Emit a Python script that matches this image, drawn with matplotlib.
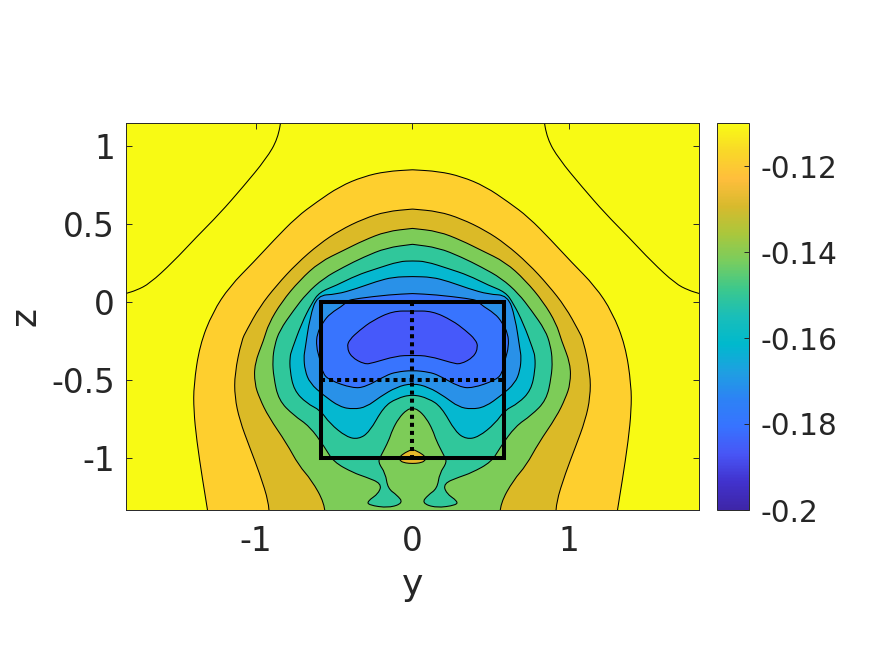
import numpy as np
import matplotlib
matplotlib.use('Agg')
import matplotlib.pyplot as plt
from matplotlib.cm import ScalarMappable
from matplotlib.colors import LinearSegmentedColormap, Normalize
from matplotlib.patches import PathPatch
from matplotlib.path import Path

# contours, right half only (field is symmetric in y)
y_a = [0, 0.166, 0.313, 0.466, 0.613, 0.741, 0.888, 1.016, 1.169, 1.278, 1.361, 1.399, 1.399, 1.380, 1.342, 1.310, 1.300]
z_a = [0.847, 0.837, 0.804, 0.740, 0.640, 0.544, 0.394, 0.255, 0.099, -0.067, -0.279, -0.535, -0.696, -0.888, -1.144, -1.337, -1.42]

y_b = [0, 0.166, 0.313, 0.466, 0.594, 0.741, 0.869, 0.978, 1.061, 1.093, 1.137, 1.137, 1.105, 1.042, 0.978, 0.917, 0.917]
z_b = [0.595, 0.580, 0.533, 0.458, 0.373, 0.245, 0.106, -0.033, -0.183, -0.247, -0.460, -0.610, -0.760, -0.931, -1.099, -1.292, -1.42]

y_c = [0, 0.166, 0.313, 0.441, 0.594, 0.722, 0.837, 0.920, 0.952, 1.010, 1.010, 0.978, 0.920, 0.805, 0.728, 0.645, 0.562, 0.556]
z_c = [0.471, 0.452, 0.394, 0.330, 0.255, 0.138, -0.001, -0.140, -0.247, -0.396, -0.524, -0.619, -0.738, -0.907, -1.048, -1.144, -1.292, -1.42]

y_d = [0, 0.166, 0.313, 0.441, 0.569, 0.677, 0.760, 0.850, 0.882, 0.895, 0.888, 0.856, 0.760, 0.658, 0.562, 0.505, 0.377, 0.300,
       0.198, 0.215, 0.289, 0.279, 0.151, 0.059, 0.098, 0.158, 0.173, 0.222, 0.200, 0.151, 0.130, 0.089, 0.036, 0]
z_d = [0.369, 0.347, 0.287, 0.223, 0.151, 0.054, -0.054, -0.183, -0.279, -0.375, -0.482, -0.631, -0.728, -0.798, -0.931, -1.027, -1.097, -1.123,
       -1.165, -1.228, -1.279, -1.304, -1.322, -1.290, -1.240, -1.197, -1.099, -1.027, -0.984, -0.888, -0.824, -0.747, -0.691, -0.683]

y_e = [0, 0.083, 0.230, 0.358, 0.486, 0.594, 0.645, 0.709, 0.773, 0.784, 0.784, 0.758, 0.677, 0.588, 0.530, 0.422, 0.345, 0.275, 0.185, 0.102, 0]
z_e = [0.262, 0.260, 0.213, 0.170, 0.106, 0.063, -0.010, -0.138, -0.311, -0.354, -0.439, -0.567, -0.651, -0.696, -0.779, -0.867, -0.881, -0.835, -0.674, -0.619, -0.593]

y_f = [0, 0.123, 0.230, 0.358, 0.486, 0.609, 0.656, 0.688, 0.695, 0.688, 0.656, 0.569, 0.465, 0.377, 0.294, 0.209, 0.102, 0]
z_f = [0.162, 0.159, 0.131, 0.085, 0.048, 0.042, -0.097, -0.311, -0.354, -0.439, -0.522, -0.599, -0.674, -0.689, -0.674, -0.610, -0.546, -0.522]

y_g = [0, 0.145, 0.358, 0.422, 0.433, 0.528, 0.571, 0.611, 0.615, 0.594, 0.575, 0.530, 0.383, 0.300, 0.168, 0.104, 0]
z_g = [0.053, 0.046, 0.021, 0.006, -0.016, -0.076, -0.129, -0.203, -0.290, -0.362, -0.458, -0.503, -0.554, -0.546, -0.471, -0.450, -0.439]

y_h = [0, 0.126, 0.254, 0.339, 0.403, 0.420, 0.392, 0.307, 0.254, 0.104, 0]
z_h = [-0.059, -0.059, -0.119, -0.183, -0.242, -0.290, -0.354, -0.401, -0.392, -0.347, -0.343]

# small gold island at the bottom of the box
y_i = [0, 0.045, 0.085, 0.080, 0.045, 0]
z_i = [-0.946, -0.965, -0.995, -1.021, -1.034, -1.037]

# corner contours in the yellow part
y_corner = [0.835, 0.861, 0.935, 1.084, 1.233, 1.382, 1.532, 1.681, 1.765, 1.835]
z_corner = [1.20, 1.046, 0.918, 0.737, 0.566, 0.415, 0.255, 0.117, 0.074, 0.053]

fill_colors = ['#FECF2E', '#DBBA27', '#7DCC58', '#30C79B', '#05B8D0', '#2991E8', '#3874FE', '#4659FA', '#E7BA2C']
yellow = '#F8FA14'

box_y = [-0.588, 0.588, 0.588, -0.588, -0.588]
box_z = [0, 0, -1, -1, 0]
cut_y = [-0.588, 0.588]
cut_z = [-0.501, -0.501]
axis_y = [0, 0]
axis_z = [0, -1]

yticks = [-1, 0, 1]
zticks = [-1, -0.5, 0, 0.5, 1]
zticklabels = ['-1', '-0.5', '0', '0.5', '1']
cticks = [-0.2, -0.18, -0.16, -0.14, -0.12]
cticklabels = ['-0.2', '-0.18', '-0.16', '-0.14', '-0.12']
cmap_nodes = ['#3E26A8', '#4132CD', '#4855F5', '#3773FF', '#2D82F5', '#1EA0E1', '#00B9CD', '#19BEB9', '#3CC88C', '#78CD5F',
              '#AAC73C', '#D7BA2D', '#FFBE3C', '#F9D828', '#F9FB15']

dark = '#262626'
W, H = 875, 656


def smooth_path(px, pz):
    # quadratic curves through the segment midpoints, read points act as controls
    pts = np.column_stack([px, pz])
    mids = (pts[:-1] + pts[1:]) / 2
    verts = [pts[0], mids[0]]
    codes = [Path.MOVETO, Path.LINETO]
    for i in range(1, len(pts) - 1):
        verts += [pts[i], mids[i]]
        codes += [Path.CURVE3, Path.CURVE3]
    verts.append(pts[-1])
    codes.append(Path.LINETO)
    return Path(verts, codes)


plt.rcParams['font.family'] = 'DejaVu Sans'
plt.rcParams['axes.unicode_minus'] = False

fig = plt.figure(figsize=(W / 100, H / 100), dpi=100)
ax = fig.add_axes([126 / W, 1 - 510 / H, 573 / W, 387 / H])
ax.set_facecolor(yellow)

levels = [(y_a, z_a), (y_b, z_b), (y_c, z_c), (y_d, z_d), (y_e, z_e), (y_f, z_f), (y_g, z_g), (y_h, z_h), (y_i, z_i)]
for (cy, cz), col in zip(levels, fill_colors):
    # mirror the half contour to get the whole one
    full_y = np.r_[cy, -np.array(cy)[::-1][1:]] if cy[-1] == 0 else np.r_[cy, -np.array(cy)[::-1]]
    full_z = np.r_[cz, cz[::-1][1:]] if cy[-1] == 0 else np.r_[cz, cz[::-1]]
    p = smooth_path(full_y, full_z)
    ax.add_patch(PathPatch(p, facecolor=col, edgecolor='none', zorder=2))
    ax.add_patch(PathPatch(p, facecolor='none', edgecolor='k', lw=0.75, zorder=3))

for sign in (1, -1):
    ax.add_patch(PathPatch(smooth_path(sign * np.array(y_corner), z_corner), facecolor='none', edgecolor='k', lw=0.75, zorder=3))

ax.plot(box_y, box_z, color='k', lw=2.9, zorder=4, solid_joinstyle='miter')
ax.plot(cut_y, cut_z, color='k', lw=2.9, ls=(0, (1, 1)), dash_capstyle='butt', zorder=4)
ax.plot(axis_y, axis_z, color='k', lw=2.9, ls=(0, (1, 1)), dash_capstyle='butt', zorder=4)

ax.set_xlim(-1.832, 1.832)
ax.set_ylim(-1.335, 1.147)
ax.set_xticks(yticks)
ax.set_xticklabels([str(t) for t in yticks])
ax.set_yticks(zticks)
ax.set_yticklabels(zticklabels)
ax.tick_params(direction='in', top=True, right=True, length=4.3, width=0.7, labelsize=23.5, colors=dark, pad=8)
ax.tick_params(axis='x', pad=11)
ax.set_xlabel('y', fontsize=26, color=dark, labelpad=7)
ax.set_ylabel('z', fontsize=26, color=dark, labelpad=6)
for s in ax.spines.values():
    s.set_linewidth(0.7)
    s.set_color(dark)
    s.set_zorder(5)

cax = fig.add_axes([717 / W, 1 - 510 / H, 32 / W, 387 / H])
cmap = LinearSegmentedColormap.from_list('parula_like', cmap_nodes, N=256)
cb = fig.colorbar(ScalarMappable(norm=Normalize(-0.2, -0.11), cmap=cmap), cax=cax)
cb.set_ticks(cticks)
cb.set_ticklabels(cticklabels)
cax.tick_params(direction='in', length=3.5, width=0.7, labelsize=21.3, colors=dark, pad=8)
cb.outline.set_linewidth(0.7)
cb.outline.set_edgecolor(dark)

fig.savefig('out.png', dpi=100)
